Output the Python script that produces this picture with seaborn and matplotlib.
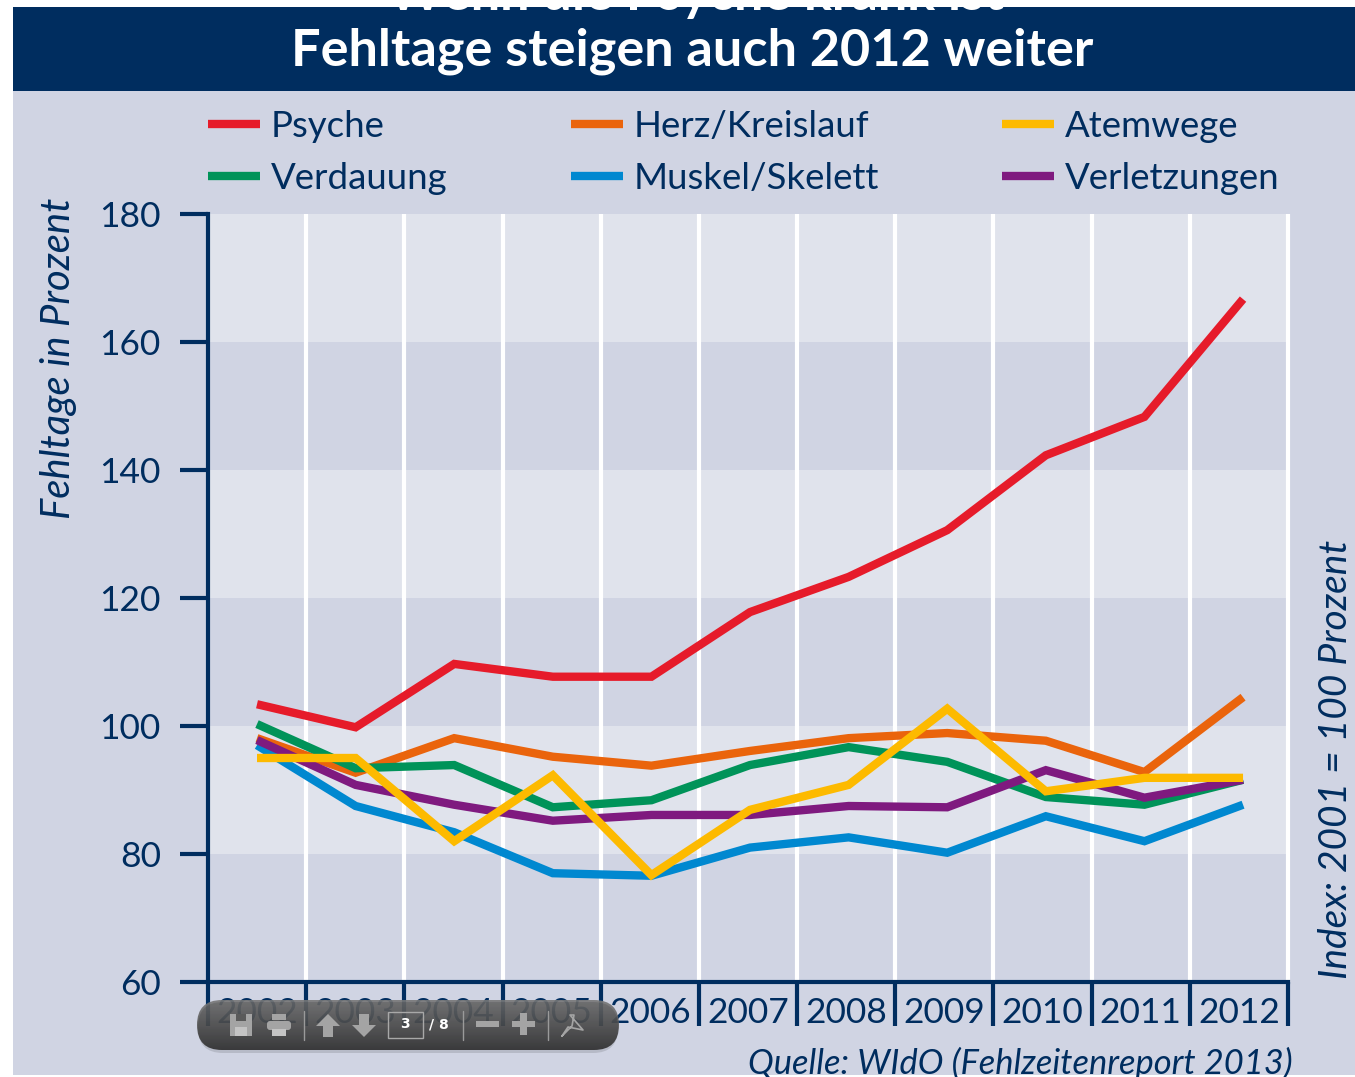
import matplotlib
matplotlib.use("Agg")
import numpy
import pandas
import seaborn
from matplotlib import pyplot as plt
from matplotlib.lines import Line2D
from matplotlib.patches import FancyBboxPatch, Polygon, Rectangle

years = [2002, 2003, 2004, 2005, 2006, 2007, 2008, 2009, 2010, 2011, 2012]
psyche = [103.4, 99.8, 109.7, 107.7, 107.7, 117.8, 123.3, 130.6, 142.3, 148.3, 166.7]
herz = [98.1, 92.7, 98.1, 95.2, 93.8, 96.1, 98.1, 98.9, 97.7, 92.8, 104.5]
verdauung = [100.3, 93.4, 93.9, 87.3, 88.4, 93.9, 96.7, 94.4, 88.9, 87.7, 91.6]
muskel = [97.0, 87.5, 83.4, 77.0, 76.6, 81.0, 82.6, 80.2, 85.9, 82.0, 87.7]
verletzungen = [97.8, 90.8, 87.7, 85.2, 86.1, 86.1, 87.5, 87.3, 93.1, 88.8, 91.6]
atemwege = [95.0, 95.0, 82.0, 92.3, 76.7, 86.9, 90.8, 102.7, 89.8, 91.9, 91.9]
y_ticks = [60, 80, 100, 120, 140, 160, 180]

# drawing order as in the picture, atemwege stays on top
series = {
    "Psyche": psyche,
    "Herz/Kreislauf": herz,
    "Verdauung": verdauung,
    "Muskel/Skelett": muskel,
    "Verletzungen": verletzungen,
    "Atemwege": atemwege,
}
colors = {
    "Psyche": "#e61b2a",
    "Herz/Kreislauf": "#ea640c",
    "Atemwege": "#fdba00",
    "Verdauung": "#009359",
    "Muskel/Skelett": "#0088d0",
    "Verletzungen": "#7f1a7f",
}
legend_order = ["Psyche", "Verdauung", "Herz/Kreislauf", "Muskel/Skelett", "Atemwege", "Verletzungen"]

navy = "#002d5f"
bg = "#d0d4e3"
band = "#e0e3ec"

W, H = 1355, 1077
seaborn.set_theme(style="white")
plt.rcParams["font.family"] = ["Lato", "DejaVu Sans"]

df = pandas.DataFrame(series, index=years).rename_axis("year").reset_index()
df = df.melt(id_vars="year", var_name="group", value_name="value")

fig = plt.figure(figsize=(W / 100, H / 100), dpi=100, facecolor="white")

# full figure axes in pixels for the panel, header and viewer toolbar
bg_ax = fig.add_axes([0, 0, 1, 1], zorder=0)
bg_ax.set_xlim(0, W)
bg_ax.set_ylim(H, 0)
bg_ax.axis("off")
bg_ax.add_patch(Rectangle((13, 7), W - 13, 1068, color=bg, lw=0))
bg_ax.add_patch(Rectangle((13, 7), W - 13, 84, color=navy, lw=0))
bg_ax.text(692, 51, "Fehltage steigen auch 2012 weiter", color="white", fontsize=37.6,
           fontweight="bold", ha="center", va="center")
# upper title line is cut off by the crop of the screenshot
cut = bg_ax.text(696, 10, "Wenn die Psyche krank ist", color="white", fontsize=37.6,
                 fontweight="bold", ha="center", va="baseline")
cut.set_clip_path(Rectangle((13, 7), W - 13, 84, transform=bg_ax.transData))
bg_ax.text(1293, 1063, "Quelle: WIdO (Fehlzeitenreport 2013)", color=navy, fontsize=24.8,
           style="italic", ha="right", va="center")
bg_ax.text(59, 358, "Fehltage in Prozent", color=navy, fontsize=28.8, style="italic",
           rotation=90, ha="center", va="center")
bg_ax.text(1336, 759, "Index: 2001 = 100 Prozent", color=navy, fontsize=28, style="italic",
           rotation=90, ha="center", va="center")

ax_left, ax_right = 208, 1288
ax = fig.add_axes([ax_left / W, 1 - 982 / H, (ax_right - ax_left) / W, (982 - 214) / H], zorder=1)
ax.patch.set_alpha(0)
# the points run a bit wider than the year cells, 257 to 1243 px
ax.set_xlim(2001.503, 2012.456)
ax.set_ylim(60, 180)
cell = (ax_right - ax_left) / len(years)


def cell_x(pos):
    # position in year cells -> data x
    x0, x1 = ax.get_xlim()
    return x0 + pos * cell * (x1 - x0) / (ax_right - ax_left)


# alternating bands and white year separators
for i in range(len(y_ticks) - 1):
    if i % 2 == 1:
        ax.axhspan(y_ticks[i], y_ticks[i + 1], color=band, lw=0, zorder=0)
ax.axhspan(160, 180, color=band, lw=0, zorder=0)
for i in range(1, len(years) + 1):
    ax.axvline(cell_x(i), color="white", lw=3, zorder=1, clip_on=False)

seaborn.lineplot(
    data=df, x="year", y="value", hue="group", palette=colors, hue_order=list(series),
    linewidth=6, legend=False, ax=ax, zorder=3, sort=False,
)
for line in ax.get_lines():
    line.set_solid_capstyle("butt")
    line.set_solid_joinstyle("miter")

ax.set_xlabel("")
ax.set_ylabel("")
ax.spines[["right", "top"]].set_visible(False)
ax.spines["left"].set_color(navy)
ax.spines["left"].set_linewidth(3)
ax.spines["bottom"].set_color(navy)
ax.spines["bottom"].set_linewidth(3)
ax.set_yticks(y_ticks)
ax.tick_params(axis="y", length=20, width=3, color=navy, labelcolor=navy, labelsize=25.5, pad=14, left=True)
ax.set_xticks([cell_x(i + 0.5) for i in range(len(years))])
ax.set_xticklabels(years)
ax.tick_params(axis="x", length=0, labelcolor=navy, labelsize=25.5, pad=10.5)

# year ticks sit between the labels, below the axis
for i in range(len(years) + 1):
    px = ax_left + i * cell
    bg_ax.plot([px, px], [982, 1026], color=navy, lw=3, solid_capstyle="butt", zorder=2)

handles = [Line2D([], [], color=colors[n], lw=6, solid_capstyle="butt") for n in legend_order]
fig.legend(
    handles, legend_order, ncol=3, frameon=False, loc="upper left",
    bbox_to_anchor=(208 / W, 1 - 110 / H), bbox_transform=fig.transFigure,
    fontsize=26.4, labelcolor=navy, handlelength=1.42, handletextpad=0.3,
    columnspacing=3.35, labelspacing=0.525, borderpad=0, borderaxespad=0,
)

# pdf viewer toolbar overlaying the screenshot
tb = fig.add_axes([0, 0, 1, 1], zorder=5)
tb.set_xlim(0, W)
tb.set_ylim(H, 0)
tb.axis("off")
tb.patch.set_alpha(0)
tb.add_patch(FancyBboxPatch((198, 1002), 420, 51, boxstyle="round,pad=0,rounding_size=25",
                            fc="#000000", ec="none", alpha=0.12))
shape = FancyBboxPatch((197, 1000), 422, 50, boxstyle="round,pad=0,rounding_size=25",
                       fc="none", ec="none")
tb.add_patch(shape)
grad = numpy.linspace(0.47, 0.2, 64).reshape(-1, 1)
im = tb.imshow(grad, extent=(197, 619, 1050, 1000), cmap="gray", vmin=0, vmax=1,
               aspect="auto", alpha=0.9)
im.set_clip_path(shape)
tb.set_xlim(0, W)
tb.set_ylim(H, 0)

icon = "#a4a4a4"
tb.add_patch(Rectangle((230, 1014), 22, 22, fc=icon, ec="none"))
tb.add_patch(Rectangle((236, 1014), 10, 7, fc="#5a5a5a", ec="none"))
tb.add_patch(Rectangle((235, 1027), 12, 9, fc="#c4c4c4", ec="none"))
tb.add_patch(Rectangle((272, 1014), 14, 6, fc=icon, ec="none"))
tb.add_patch(FancyBboxPatch((267, 1021), 24, 9, boxstyle="round,pad=0,rounding_size=3", fc=icon, ec="none"))
tb.add_patch(Rectangle((272, 1029), 14, 7, fc="#c4c4c4", ec="none"))
tb.add_patch(Polygon([(328, 1014), (340, 1026), (333, 1026), (333, 1037), (323, 1037), (323, 1026), (316, 1026)],
                     fc=icon, ec="none"))
tb.add_patch(Polygon([(364, 1037), (376, 1025), (369, 1025), (369, 1014), (359, 1014), (359, 1025), (352, 1025)],
                     fc=icon, ec="none"))
tb.add_patch(Rectangle((388, 1012), 35, 26, fc="none", ec="#a8a8a8", lw=1))
tb.text(405, 1024, "3", color="white", fontsize=10, fontweight="bold", ha="center", va="center", family="DejaVu Sans")
tb.text(439, 1024, "/ 8", color="white", fontsize=10, fontweight="bold", ha="center", va="center", family="DejaVu Sans")
tb.add_patch(Rectangle((476, 1021), 23, 6, fc=icon, ec="none"))
tb.add_patch(Rectangle((512, 1021), 23, 6, fc=icon, ec="none"))
tb.add_patch(Rectangle((520, 1013), 7, 22, fc=icon, ec="none"))
for x0 in [304, 463, 548]:
    tb.plot([x0, x0], [1011, 1040], color="#9a9a9a", lw=1)
tb.plot([562, 572, 574, 570, 583, 568, 562], [1036, 1026, 1015, 1015, 1030, 1027, 1036], color=icon, lw=1.2)

fig.savefig("out.png", dpi=100, facecolor="white")
plt.close()
